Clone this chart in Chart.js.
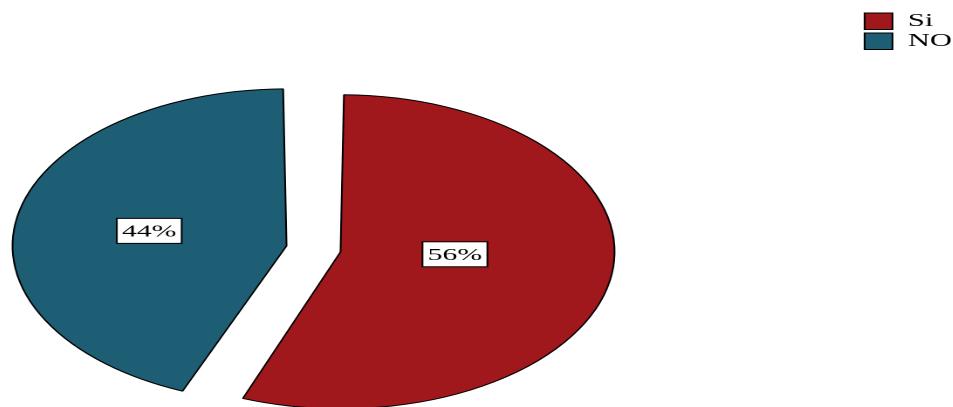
<!DOCTYPE html>
<html>
<head>
<meta charset="utf-8">
<script src="https://cdn.jsdelivr.net/npm/chart.js@4/dist/chart.umd.min.js"></script>
<style>
html, body { margin: 0; padding: 0; background: #ffffff; overflow: hidden; width: 953px; height: 407px; }
#wrap { position: absolute; left: -221.5px; top: 10px; width: 682px; height: 479px; transform: scaleX(1.7454); transform-origin: 0 0; }
</style>
</head>
<body>
<div id="wrap"><canvas id="c"></canvas></div>
<script>
// ---- data ----
const categories = ['Si', 'NO'];
const values = [56, 44];
const sliceColors = ['#a0171c', '#1d5e74'];

// ---- label plugin: value boxes inside slices ----
const sliceLabels = {
  id: 'sliceLabels',
  afterDatasetsDraw(chart, args, opts) {
    const meta = chart.getDatasetMeta(0);
    const ctx = chart.ctx;
    ctx.save();
    ctx.font = "17px 'Liberation Serif', 'Times New Roman', serif";
    ctx.textAlign = 'center';
    ctx.textBaseline = 'middle';
    meta.data.forEach((arc, i) => {
      const p = arc.getProps(['x', 'y', 'startAngle', 'endAngle', 'outerRadius', 'circumference'], true);
      const mid = (p.startAngle + p.endAngle) / 2;
      const off = (arc.options.offset || 0) / 4;
      const fix = 1 - Math.sin(Math.min(Math.PI, p.circumference));
      const rad = p.outerRadius + off * fix;
      const cx = p.x + Math.cos(mid) * off;
      const cy = p.y + Math.sin(mid) * off;
      const lx = cx + Math.cos(mid) * rad * opts.fractions[i];
      const ly = cy + Math.sin(mid) * rad * opts.fractions[i] + opts.nudgeY[i];
      const text = values[i] + '%';
      const w = ctx.measureText(text).width + 6;
      const h = 25;
      ctx.fillStyle = '#ffffff';
      ctx.fillRect(lx - w / 2, ly - h / 2, w, h);
      ctx.strokeStyle = '#000000';
      ctx.lineWidth = 1;
      ctx.strokeRect(lx - w / 2, ly - h / 2, w, h);
      ctx.fillStyle = '#000000';
      ctx.fillText(text, lx, ly + 1);
    });
    ctx.restore();
  }
};

new Chart(document.getElementById('c'), {
  type: 'pie',
  data: {
    labels: categories,
    datasets: [{
      data: values,
      backgroundColor: sliceColors,
      borderColor: '#000000',
      borderWidth: 1,
      offset: [48.8, 77.2],
      radius: 144.8
    }]
  },
  options: {
    responsive: true,
    maintainAspectRatio: false,
    animation: false,
    events: [],
    devicePixelRatio: 2,
    layout: { padding: 0 },
    plugins: {
      legend: {
        position: 'right',
        align: 'start',
        labels: {
          boxWidth: 16,
          boxHeight: 16.5,
          padding: 2.5,
          color: '#000000',
          font: { family: "'Liberation Serif', 'Times New Roman', serif", size: 17.5 }
        }
      },
      tooltip: { enabled: false },
      sliceLabels: { fractions: [0.425, 0.51], nudgeY: [-10, 0] }
    }
  },
  plugins: [sliceLabels]
});
</script>
</body>
</html>
